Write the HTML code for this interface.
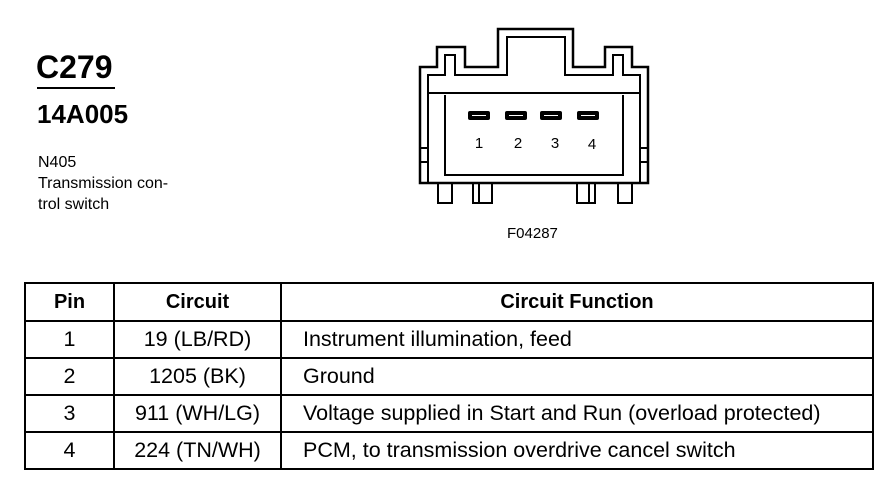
<!DOCTYPE html>
<html><head><style>
body{margin:0;width:896px;height:480px;background:#fff;overflow:hidden;position:relative;font-family:"Liberation Sans",Arial,sans-serif;color:#000}
.t{position:absolute;white-space:nowrap}
table{position:absolute;left:24px;top:282px;width:850px;table-layout:fixed;border-collapse:collapse;font-size:21.5px}
td{border:2px solid #000;height:35px;padding:0}
th{border:2px solid #000;height:34px;font-size:20px}
</style></head><body>
<div class="t" style="left:36px;top:49px;font-size:32px;font-weight:bold">C279</div>
<div style="position:absolute;left:37px;top:87px;width:78px;height:2px;background:#000"></div>
<div class="t" style="left:37px;top:99px;font-size:26px;font-weight:bold">14A005</div>
<div class="t" style="left:38px;top:152px;font-size:16px;line-height:21px">N405<br>Transmission con-<br>trol switch</div>
<div class="t" style="left:507px;top:225px;font-size:15px">F04287</div>
<svg width="896" height="480" style="position:absolute;left:0;top:0" fill="none" stroke="#000" stroke-width="2">
<path d="M420,183 V67 H437 V47 H465 V67 H498 V29 H573 V67 H605 V47 H632 V67 H648 V183 Z" stroke-width="2.5"/>
<path d="M428,93 V75 H445 V55 H455 V75 H507 V37 H565 V75 H613 V55 H623 V75 H640 V93 Z"/>
<path d="M445,95 V175 H623 V95"/>
<path d="M428,93 V183 M640,93 V183"/>
<path d="M420,148 H428 M420,162 H428 M640,148 H648 M640,162 H648"/>
<path d="M438,183 V203 H452 V183 M473,183 V203 H492 V183 M479,183 V203 M577,183 V203 H595 V183 M589,183 V203 M618,183 V203 H632 V183"/>
<g fill="#000" stroke="none">
<rect x="468" y="111" width="22" height="9" rx="2"/>
<rect x="505" y="111" width="22" height="9" rx="2"/>
<rect x="540" y="111" width="22" height="9" rx="2"/>
<rect x="577" y="111" width="22" height="9" rx="2"/>
</g>
<g stroke="#fff" stroke-width="1"><path d="M472,115.5 H486 M509,115.5 H523 M544,115.5 H558 M581,115.5 H595"/></g>
<g fill="#000" stroke="none" font-family="Liberation Sans,Arial,sans-serif" font-size="15" text-anchor="middle">
<text x="479" y="148">1</text><text x="518" y="148">2</text><text x="555" y="148">3</text><text x="592" y="149">4</text>
</g>
</svg>
<table>
<colgroup><col style="width:89px"><col style="width:167px"><col></colgroup>
<tr><th>Pin</th><th>Circuit</th><th>Circuit Function</th></tr>
<tr><td style="text-align:center">1</td><td style="text-align:center">19 (LB/RD)</td><td style="padding-left:21px">Instrument illumination, feed</td></tr>
<tr><td style="text-align:center">2</td><td style="text-align:center">1205 (BK)</td><td style="padding-left:21px">Ground</td></tr>
<tr><td style="text-align:center">3</td><td style="text-align:center">911 (WH/LG)</td><td style="padding-left:21px">Voltage supplied in Start and Run (overload protected)</td></tr>
<tr><td style="text-align:center">4</td><td style="text-align:center">224 (TN/WH)</td><td style="padding-left:21px">PCM, to transmission overdrive cancel switch</td></tr>
</table>
</body></html>
